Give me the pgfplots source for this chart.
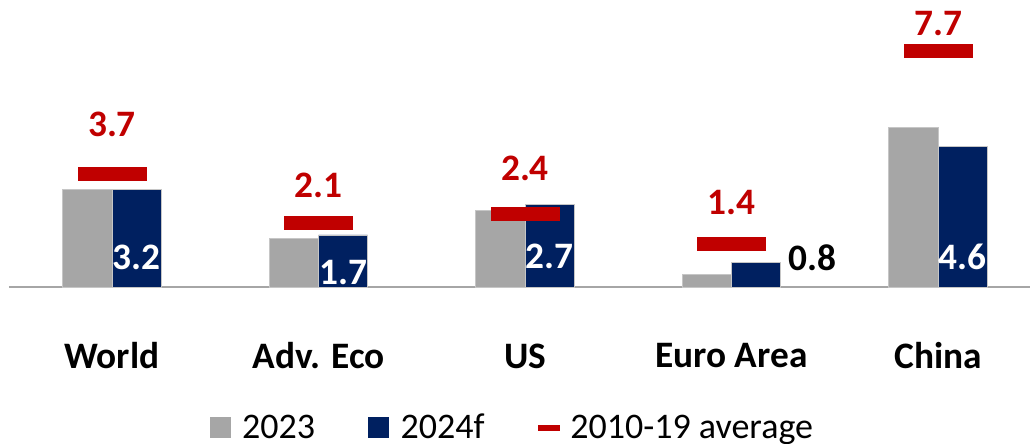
\documentclass[border=0pt]{standalone}
\usepackage{fontspec}
\setmainfont{Carlito}
\usepackage{pgfplots}
\pgfplotsset{compat=1.18}

\definecolor{gray23}{HTML}{A6A6A6}
\definecolor{navy24}{HTML}{002060}
\definecolor{avgred}{HTML}{C00000}
\newcommand{\lbl}{\fontsize{28}{32}\selectfont}
\newcommand{\leg}{\fontsize{27}{31}\selectfont}

\begin{document}
\begin{tikzpicture}
\useasboundingbox (-6.5625pt,-117pt) rectangle (765.9375pt,215.25pt);
\begin{axis}[
  scale only axis,
  width=765.9375pt, height=215.25pt,
  xmin=-0.5, xmax=4.4455, ymin=0, ymax=9.379,
  axis x line*=bottom,
  x axis line style={draw=gray!70, line width=1.5pt},
  hide y axis,
  clip=false,
  xtick={0,...,4},
  xticklabels={World, Adv. Eco, US, Euro Area, China},
  xtick style={draw=none},
  major tick length=0pt,
  xticklabel style={font=\bfseries\lbl, anchor=center, yshift=-51.75pt},
  legend columns=3,
  legend style={at={(axis description cs:0.4935,-0.4890)}, anchor=center,
    draw=none, fill=none, font=\leg,
    /tikz/every even column/.append style={column sep=38pt}},
]
  % 2023
  \addplot[ybar, bar width=0.238, bar shift=-0.119, fill=gray23,
    draw=gray!45, line width=0.6pt, forget plot]
    coordinates {(0,3.2) (1,1.6) (2,2.5) (3,0.4) (4,5.2)};
  % 2024f
  \addplot[ybar, bar width=0.238, bar shift=0.119, fill=navy24,
    draw=gray!45, line width=0.6pt, forget plot]
    coordinates {(0,3.2) (1,1.7) (2,2.7) (3,0.8) (4,4.6)};
  % 2010-19 average
  \addplot[only marks, mark=-, mark size=25.875pt,
    mark options={line width=10.5pt, draw=avgred}, forget plot]
    coordinates {(0,3.7) (1,2.1) (2,2.4) (3,1.4) (4,7.7)};

  % labels
  \addplot[draw=none, forget plot, nodes near coords, point meta=explicit symbolic,
    nodes near coords style={anchor=center, font=\bfseries\lbl, text=avgred}]
    coordinates {(0,5.33)[3.7] (1,3.33)[2.1] (2,3.89)[2.4] (3,2.75)[1.4] (4,8.61)[7.7]};
  \addplot[draw=none, forget plot, nodes near coords, point meta=explicit symbolic,
    nodes near coords style={anchor=center, font=\bfseries\lbl, text=white}]
    coordinates {(0.119,0.98)[3.2] (1.121,0.49)[1.7] (2.119,1.0)[2.7] (4.119,0.98)[4.6]};
  \addplot[draw=none, forget plot, nodes near coords, point meta=explicit symbolic,
    nodes near coords style={anchor=center, font=\bfseries\lbl, text=black}]
    coordinates {(3.392,0.96)[0.8]};

  \addlegendimage{legend image code/.code={\fill[gray23] (0pt,-7.5pt) rectangle (15pt,7.5pt); \path[draw=none] (0pt,0pt) -- (22pt,0pt);}}
  \addlegendentry{2023}
  \addlegendimage{legend image code/.code={\fill[navy24] (0pt,-7.5pt) rectangle (15pt,7.5pt); \path[draw=none] (0pt,0pt) -- (22pt,0pt);}}
  \addlegendentry{2024f}
  \addlegendimage{legend image code/.code={\fill[avgred] (0pt,-1.9pt) rectangle (15.75pt,1.9pt); \path[draw=none] (0pt,0pt) -- (22pt,0pt);}}
  \addlegendentry{2010-19 average}
\end{axis}
\end{tikzpicture}
\end{document}
